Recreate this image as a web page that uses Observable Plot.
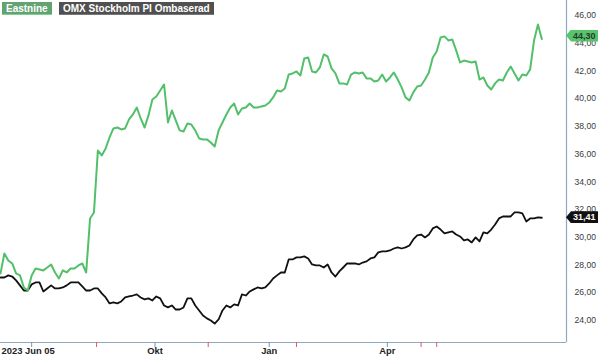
<!DOCTYPE html>
<html><head><meta charset="utf-8">
<script src="https://cdn.jsdelivr.net/npm/d3@7"></script>
<script src="https://cdn.jsdelivr.net/npm/@observablehq/plot@0.6"></script>
<style>
body{margin:0;background:#fff;font-family:"Liberation Sans",Arial,sans-serif;}
#wrap{position:relative;width:600px;height:356px;overflow:hidden;}
.leg{position:absolute;top:2px;height:13px;line-height:13px;font-size:10px;font-weight:bold;color:#fff;padding:0 4px;box-sizing:border-box;white-space:nowrap;}
.val{position:absolute;left:566px;width:32px;height:12px;line-height:12px;font-size:9px;font-weight:bold;padding-left:7px;box-sizing:border-box;clip-path:polygon(0 50%,5px 0,100% 0,100% 100%,5px 100%);}
</style></head><body><div id="wrap"></div>
<script>
const startDate = "2023-06-09";
const endDate = "2024-08-18";
const stepDays = 3;
const yDomain = [22.41, 47.08];
const seriesNames = ["Eastnine", "OMX Stockholm PI Ombaserad"];
const eastnine = [27.39,28.83,28.33,28.11,27.39,27.25,26.38,26.16,27.25,27.75,27.68,27.61,27.82,28.04,27.46,27.03,27.61,27.46,27.75,27.75,27.97,28.11,27.46,31.36,31.79,36.26,35.90,36.41,37.20,37.85,37.92,37.78,37.85,38.50,38.86,39.36,38.57,37.92,38.79,39.94,40.16,40.59,41.02,38.28,39.15,38.43,37.71,37.63,38.21,38.14,37.71,37.13,37.06,37.06,36.84,36.55,37.71,38.28,38.86,39.36,39.65,38.86,39.29,39.36,39.65,39.36,39.36,39.44,39.51,39.72,40.09,40.59,40.52,40.73,41.74,41.82,41.96,41.67,42.90,42.97,41.96,41.89,42.25,43.19,43.04,42.18,41.82,41.10,41.10,41.02,41.74,41.89,41.82,41.89,41.46,41.46,41.24,41.31,41.74,41.24,41.53,41.89,41.38,40.81,40.09,39.87,40.45,40.88,40.95,41.38,41.89,42.97,43.40,44.41,44.49,44.20,44.27,43.48,42.61,42.75,42.68,42.61,42.68,41.38,41.53,40.95,40.66,41.10,41.38,41.31,41.89,42.32,41.82,41.31,41.74,41.67,42.11,44.20,45.35,44.30];
const omx = [27.10,27.10,27.25,27.17,26.89,26.53,26.16,26.16,26.60,26.74,26.74,26.09,26.31,26.53,26.31,26.31,26.38,26.53,26.74,26.74,26.74,26.45,26.16,26.16,26.31,26.31,25.95,25.66,25.23,25.30,25.23,25.37,25.66,25.73,25.80,25.88,25.66,25.52,25.59,25.44,25.73,25.59,25.08,24.94,25.08,24.79,24.79,24.94,25.59,25.59,25.08,24.72,24.36,24.15,24.00,23.78,24.07,24.72,25.08,24.94,25.16,25.08,25.88,25.80,26.09,26.24,26.38,26.31,26.38,26.67,27.03,27.25,27.46,27.46,28.40,28.40,28.55,28.55,28.62,28.47,28.04,27.97,27.97,27.82,28.04,27.46,27.17,27.54,27.82,28.11,28.11,28.11,28.04,28.18,28.26,28.47,28.55,28.91,28.98,28.98,29.05,29.19,29.27,29.19,29.27,29.41,29.84,30.13,30.20,29.99,30.20,30.64,30.78,30.56,30.28,30.35,30.42,30.20,30.06,29.77,29.84,29.63,29.99,29.70,30.35,30.28,30.56,30.92,31.36,31.50,31.50,31.50,31.79,31.79,31.72,31.14,31.36,31.36,31.43,31.41];
const tickDates = ["2023-07-03","2023-10-06","2024-01-02","2024-04-02"];
const eventDates = ["2023-08-22","2023-11-16","2024-01-23","2024-04-28","2024-05-10"];
const labelDates = ["2023-06-09","2023-10-06","2024-01-02","2024-04-02"];
const labelTexts = ["2023 Jun 05","Okt","Jan","Apr"];
const yTicks = [24,26,28,30,32,34,36,38,40,42,44,46];
const lastLabels = ["44,30","31,41"];

const parse = d3.utcParse("%Y-%m-%d");
const start = parse(startDate), end = parse(endDate);
const rowsE = eastnine.map((v,i)=>({date:d3.utcDay.offset(start,i*stepDays), value:v}));
const rowsO = omx.map((v,i)=>({date:d3.utcDay.offset(start,i*stepDays), value:v}));
const labels = labelDates.map((d,i)=>({date:parse(d), text:labelTexts[i]}));
const axisColor = "#8fa9bf";
const fmt = d => d.toFixed(2).replace(".", ",");

const chart = Plot.plot({
  width:600, height:356, marginLeft:0, marginRight:34, marginTop:0, marginBottom:14,
  style:{fontFamily:"'Liberation Sans', Arial, sans-serif", background:"transparent", overflow:"visible"},
  x:{type:"utc", domain:[start,end]},
  y:{domain:yDomain},
  marks:[
    Plot.axisY({anchor:"right", ticks:yTicks, tickSize:0, tickPadding:8, tickFormat:fmt, fontSize:8.6, fill:"#3a3a3a", label:null}),
    Plot.lineY(rowsO, {x:"date", y:"value", stroke:"#111", strokeWidth:1.8}),
    Plot.lineY(rowsE, {x:"date", y:"value", stroke:"#52c06b", strokeWidth:2}),
    Plot.ruleY([yDomain[0]], {stroke:axisColor, strokeWidth:1.2}),
    Plot.ruleX([end], {stroke:axisColor, strokeWidth:1.2}),
    Plot.axisX({ticks:tickDates.map(parse), tickSize:5, stroke:"#7a98b3", tickFormat:()=>"", label:null}),
    Plot.axisX({ticks:eventDates.map(parse), tickSize:5, stroke:"#e05a5a", tickFormat:()=>"", label:null}),
    Plot.text(labels.slice(0,1), {x:"date", text:"text", frameAnchor:"bottom", dy:11, dx:1, textAnchor:"start", fontSize:9.4, fill:"#222", fontWeight:"bold"}),
    Plot.text(labels.slice(1), {x:"date", text:"text", frameAnchor:"bottom", dy:11, textAnchor:"middle", fontSize:9.4, fill:"#222", fontWeight:"bold"})
  ]
});
const wrap = document.getElementById("wrap");
wrap.appendChild(chart);
const y = chart.scale("y");

const l1 = document.createElement("div");
l1.className="leg"; l1.style.left="2px"; l1.style.background="#62a372"; l1.style.borderBottom="1px solid #7fcf8f";
l1.textContent=seriesNames[0]; wrap.appendChild(l1);
const l2 = document.createElement("div");
l2.className="leg"; l2.style.left="59px"; l2.style.background="#505050"; l2.style.borderBottom="1px solid #777";
l2.textContent=seriesNames[1]; wrap.appendChild(l2);

const v1 = document.createElement("div");
v1.className="val"; v1.style.background="#55c46d"; v1.style.color="#2a3a2a";
v1.style.top=(y.apply(eastnine[eastnine.length-1]) - 9)+"px"; v1.textContent=lastLabels[0]; wrap.appendChild(v1);
const v2 = document.createElement("div");
v2.className="val"; v2.style.background="#111"; v2.style.color="#fff";
v2.style.top=(y.apply(omx[omx.length-1]) - 6)+"px"; v2.textContent=lastLabels[1]; wrap.appendChild(v2);
</script></body></html>
